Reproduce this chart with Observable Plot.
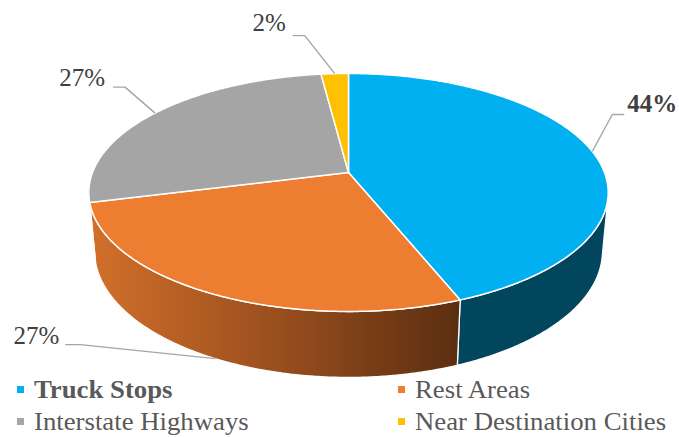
<!DOCTYPE html>
<html><head><meta charset="utf-8">
<script src="https://cdn.jsdelivr.net/npm/d3@7"></script>
<script src="https://cdn.jsdelivr.net/npm/@observablehq/plot@0.6"></script>
<style>
body{margin:0;background:#fff;width:679px;height:437px;overflow:hidden;font-family:'Liberation Serif','DejaVu Serif',serif;}
#wrap{position:relative;width:679px;height:437px;}
#legend{position:absolute;left:0;top:378px;width:679px;height:59px;color:#595959;font-size:25px;font-family:'Liberation Serif','DejaVu Serif',serif;}
.item{position:absolute;display:flex;align-items:center;white-space:nowrap;line-height:1;}
.sw{width:7px;height:7px;margin-right:10px;display:inline-block;}
.tx{display:inline-block;transform-origin:0 50%;transform:scaleX(1.07);}
</style></head><body>
<div id="wrap"><div id="chart"></div><div id="legend"></div></div>
<script>
// ---- data ----
const categories = ["Truck Stops", "Rest Areas", "Interstate Highways", "Near Destination Cities"];
const shares = [44, 27, 27, 2];
const labels = ["44%", "27%", "27%", "2%"];

// ---- styles ----
const topColors = ["#00B0F0", "#ED7D31", "#A5A5A5", "#FFC000"];
const sideColors = ["#02465E", "url(#sideOrange)", "#6E6E6E", "#B38700"];
const FONT = "'Liberation Serif', 'DejaVu Serif', serif";

// ---- 3D projection (radius units) ----
const W = 679, Hs = 378, R = 256, CX = 348, CY = 172;
const D = 5.31, sinP = 0.4517, cosP = Math.sqrt(1 - sinP * sinP), TH = 0.26;
function proj3(X, Z, Y) {
  const d = D - Y * sinP - Z * cosP, f = D / d;
  return {u: X * f, v: (Z * sinP - Y * cosP) * f};
}
function proj(t, Y) {
  const a = t * Math.PI / 180;
  return proj3(Math.sin(a), -Math.cos(a), Y);
}
const total = d3.sum(shares);
let acc = 0;
const slices = categories.map((c, i) => {
  const a0 = acc / total * 360; acc += shares[i];
  return {i, c, a0, a1: acc / total * 360};
});
function arc(a0, a1, Y) {
  const n = Math.max(2, Math.ceil(Math.abs(a1 - a0) / 0.5));
  return d3.range(n + 1).map(k => proj(a0 + (a1 - a0) * k / n, Y));
}
// front-facing wall range
const tv = Math.acos(-1 / (D * cosP)) * 180 / Math.PI;
const marks = [];
slices.forEach(s => {
  const b0 = Math.max(s.a0, tv), b1 = Math.min(s.a1, 360 - tv);
  if (b1 > b0) {
    const pts = [...arc(b0, b1, 0), ...arc(b1, b0, -TH)];
    marks.push(Plot.line(pts, {x: "u", y: "v", curve: "linear-closed", fill: sideColors[s.i], stroke: "white", strokeWidth: 1.3, strokeLinejoin: "round"}));
  }
});
slices.forEach(s => {
  const pts = [proj3(0, 0, 0), ...arc(s.a0, s.a1, 0)];
  marks.push(Plot.line(pts, {x: "u", y: "v", curve: "linear-closed", fill: topColors[s.i], stroke: "white", strokeWidth: 1.5, strokeLinejoin: "round"}));
});
// leader lines (pixel offsets from anchor: elbow, end; text offset)
const leaderLayout = [
  {Y: 0, elbow: [20, -37], end: [32, -37], txt: [3, -10], anchor: "start", weight: "bold"},
  {Y: -TH, elbow: [-135, -14], end: [-150, -14], txt: [-6, -9], anchor: "end", weight: "normal"},
  {Y: 0, elbow: [-30, -26], end: [-42, -26], txt: [-8, -9], anchor: "end", weight: "normal"},
  {Y: 0, elbow: [-30, -38], end: [-42, -38], txt: [-7, -13], anchor: "end", weight: "normal"}
];
const leaderPts = [], textPts = [];
slices.forEach(s => {
  const L = leaderLayout[s.i];
  const a = proj((s.a0 + s.a1) / 2, L.Y);
  const e = {u: a.u + L.elbow[0] / R, v: a.v + L.elbow[1] / R};
  const n = {u: a.u + L.end[0] / R, v: a.v + L.end[1] / R};
  leaderPts.push({...a, i: s.i}, {...e, i: s.i}, {...n, i: s.i});
  textPts.push({u: n.u + L.txt[0] / R, v: n.v + L.txt[1] / R, label: labels[s.i], anchor: L.anchor, weight: L.weight});
});
marks.push(Plot.line(leaderPts, {x: "u", y: "v", z: "i", stroke: "#A6A6A6", strokeWidth: 1.4, strokeLinecap: "butt"}));
for (const anchor of ["start", "end"]) for (const weight of ["bold", "normal"]) {
  const sub = textPts.filter(d => d.anchor === anchor && d.weight === weight);
  if (sub.length) marks.push(Plot.text(sub, {x: "u", y: "v", text: "label", textAnchor: anchor, fontWeight: weight, fill: "#404040", fontSize: 25, fontFamily: FONT, lineAnchor: "middle"}));
}

const svg = Plot.plot({
  width: W, height: Hs, margin: 0,
  x: {domain: [-CX / R, (W - CX) / R], range: [0, W], axis: null},
  y: {domain: [-CY / R, (Hs - CY) / R], range: [0, Hs], axis: null},
  style: {background: "white", overflow: "visible", fontFamily: FONT},
  marks
});
const defs = d3.select(svg).insert("defs", ":first-child");
const g = defs.append("linearGradient").attr("id", "sideOrange").attr("x1", 0).attr("x2", 1).attr("y1", 0).attr("y2", 0);
g.append("stop").attr("offset", "0%").attr("stop-color", "#D2702B");
g.append("stop").attr("offset", "45%").attr("stop-color", "#A0521F");
g.append("stop").attr("offset", "100%").attr("stop-color", "#5B2E11");
document.getElementById("chart").appendChild(svg);

// legend
const legendPos = [[17, 11], [398, 11], [17, 43], [398, 43]];
const leg = document.getElementById("legend");
categories.forEach((c, i) => {
  const it = document.createElement("div");
  it.className = "item";
  it.style.left = legendPos[i][0] + "px";
  it.style.top = (legendPos[i][1] - 12) + "px";
  it.innerHTML = `<span class="sw" style="background:${topColors[i]}"></span><span class="tx" style="font-weight:${i === 0 ? "bold" : "normal"}">${c}</span>`;
  leg.appendChild(it);
});
</script>
</body></html>
